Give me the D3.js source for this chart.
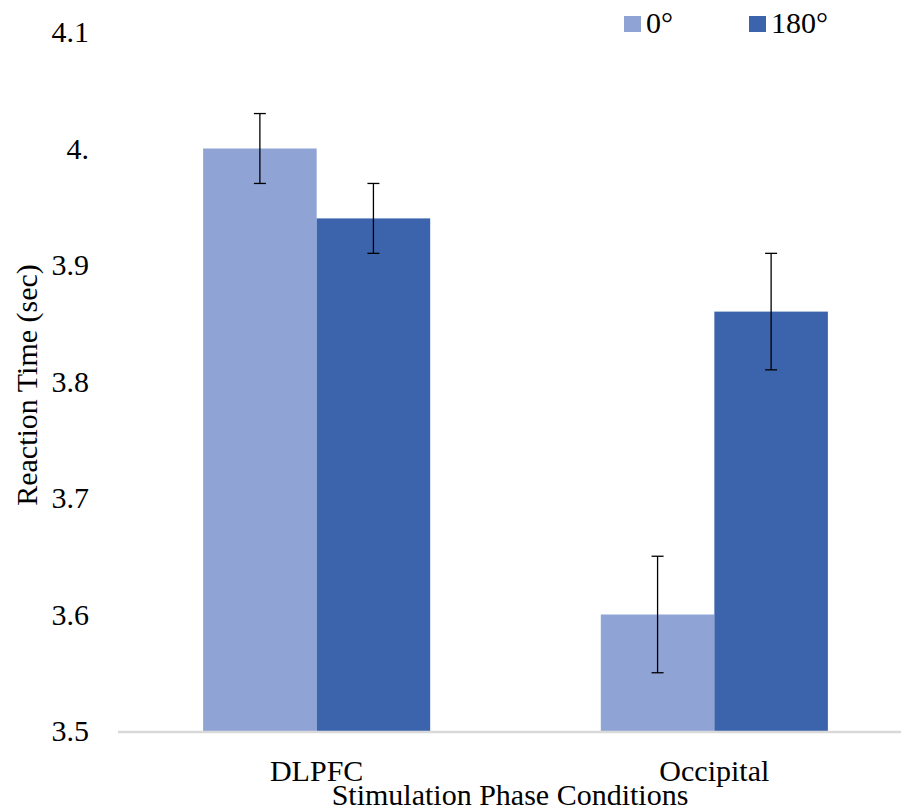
<!DOCTYPE html>
<html>
    <head>
        <script src="https://d3js.org/d3.v7.min.js"></script>
        <style>
            body { margin: 0; background: #fff; }
            svg text { fill: #000; }
        </style>
    </head>
    <body>
        <svg id="svg" width=901 height=812></svg>
        <script>
            // chart data
            const categories = ["DLPFC", "Occipital"];
            const series = ["0°", "180°"];
            const values0 = [4.00, 3.60];
            const values180 = [3.94, 3.86];
            const errors0 = [0.03, 0.05];
            const errors180 = [0.03, 0.05];
            const yTicks = [3.5, 3.6, 3.7, 3.8, 3.9, 4.0, 4.1];
            const yTickLabels = ["3.5", "3.6", "3.7", "3.8", "3.9", "4.", "4.1"];
            const colors = ["#8fa3d4", "#3c64ad"];

            const svg = d3.select("svg#svg");
            const fontSize = 30;
            const serif = 'Tinos, "Liberation Serif", "Times New Roman", Times, "Noto Serif", "DejaVu Serif", FreeSerif, serif';

            // build rows
            const rows = categories.map((c, i) => ({
                category: c,
                bars: [
                    { s: series[0], v: values0[i], e: errors0[i] },
                    { s: series[1], v: values180[i], e: errors180[i] }
                ]
            }));

            // Scales
            const xScale = d3.scaleBand()
                             .domain(categories)
                             .range([118, 913])
                             .paddingInner(0.429)
                             .paddingOuter(0.214);
            const sScale = d3.scaleBand()
                             .domain(series)
                             .range([0, xScale.bandwidth()]);
            const yScale = d3.scaleLinear()
                             .domain([3.5, 4.1])
                             .range([731, 32]);
            const colorScale = d3.scaleOrdinal().domain(series).range(colors);

            // Left axis labels (no line, no ticks)
            let leftAxis = d3.axisLeft(yScale)
                             .tickValues(yTicks)
                             .tickFormat((d, i) => yTickLabels[i])
                             .tickSize(0)
                             .tickPadding(0);
            let leftG = svg.append("g")
                           .attr("transform", "translate(89,0)")
                           .call(leftAxis)
                           .attr("font-family", serif)
                           .attr("font-size", fontSize);
            leftG.select(".domain").remove();

            // Bars
            let groups = svg.append("g").selectAll("g")
                            .data(rows)
                            .join("g")
                            .attr("transform", d => `translate(${xScale(d.category)},0)`);

            groups.selectAll("rect")
                  .data(d => d.bars)
                  .join("rect")
                  .attr("x", d => sScale(d.s))
                  .attr("width", sScale.bandwidth())
                  .attr("y", d => yScale(d.v))
                  .attr("height", d => yScale(3.5) - yScale(d.v))
                  .attr("fill", d => colorScale(d.s));

            // Error bars
            let capW = 6;
            let errs = groups.selectAll("g.err")
                             .data(d => d.bars)
                             .join("g")
                             .attr("class", "err")
                             .attr("stroke", "#000")
                             .attr("stroke-width", 1.3);
            errs.append("line")
                .attr("x1", d => sScale(d.s) + sScale.bandwidth() / 2)
                .attr("x2", d => sScale(d.s) + sScale.bandwidth() / 2)
                .attr("y1", d => yScale(d.v + d.e))
                .attr("y2", d => yScale(d.v - d.e));
            errs.append("line")
                .attr("x1", d => sScale(d.s) + sScale.bandwidth() / 2 - capW)
                .attr("x2", d => sScale(d.s) + sScale.bandwidth() / 2 + capW)
                .attr("y1", d => yScale(d.v + d.e))
                .attr("y2", d => yScale(d.v + d.e));
            errs.append("line")
                .attr("x1", d => sScale(d.s) + sScale.bandwidth() / 2 - capW)
                .attr("x2", d => sScale(d.s) + sScale.bandwidth() / 2 + capW)
                .attr("y1", d => yScale(d.v - d.e))
                .attr("y2", d => yScale(d.v - d.e));

            // Baseline
            svg.append("line")
               .attr("x1", 118)
               .attr("x2", 901)
               .attr("y1", yScale(3.5) + 1)
               .attr("y2", yScale(3.5) + 1)
               .attr("stroke", "#d9d9d9")
               .attr("stroke-width", 2.5);

            // Text layer
            let textLayer = svg.append("g")
                               .attr("font-family", serif)
                               .attr("font-size", fontSize);

            // Category labels
            textLayer.append("g").selectAll("text")
               .data(categories)
               .join("text")
               .attr("x", d => xScale(d) + xScale.bandwidth() / 2)
               .attr("y", 781)
               .attr("text-anchor", "middle")
               .text(d => d);

            // Axis titles
            textLayer.append("text")
               .attr("x", 510)
               .attr("y", 805)
               .attr("text-anchor", "middle")
               .text("Stimulation Phase Conditions");

            textLayer.append("text")
               .attr("transform", "translate(37,385) rotate(-90)")
               .attr("text-anchor", "middle")
               .text("Reaction Time (sec)");

            // Legend
            let legendX = [624, 749];
            let legend = textLayer.append("g").selectAll("g")
                            .data(series)
                            .join("g")
                            .attr("transform", (d, i) => `translate(${legendX[i]},0)`);
            legend.append("rect")
                  .attr("x", 0)
                  .attr("y", 16)
                  .attr("width", 17)
                  .attr("height", 16)
                  .attr("fill", d => colorScale(d));
            legend.append("text")
                  .attr("x", 22)
                  .attr("y", 33)
                  .text(d => d);
        </script>
    </body>
</html>
